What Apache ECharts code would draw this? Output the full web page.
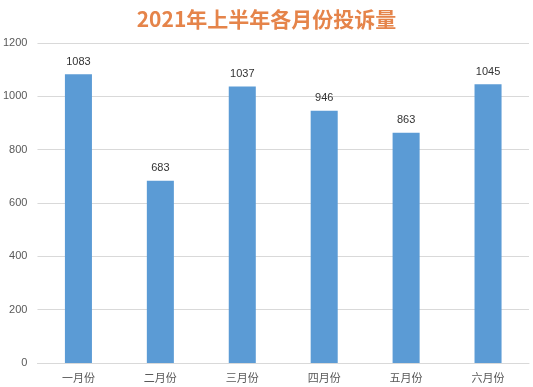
<!DOCTYPE html>
<html><head><meta charset="utf-8">
<script src="https://cdn.jsdelivr.net/npm/echarts@6/dist/echarts.min.js"></script>
<style>html,body{margin:0;padding:0;background:#fff}#c{width:533px;height:387px}</style>
</head><body><div id="c"></div>
<script>
const categories = ['一月份','二月份','三月份','四月份','五月份','六月份'];
const values = [1083, 683, 1037, 946, 863, 1045];
const titleText = '2021年上半年各月份投诉量';
const chart = echarts.init(document.getElementById('c'), null, {renderer:'canvas'});
chart.setOption({
  animation:false,
  backgroundColor:'#fff',
  title:{text:titleText,left:'center',top:4,textStyle:{color:'#E5844A',fontSize:21,fontWeight:'bold',fontFamily:'"Noto Sans CJK SC", sans-serif'}},
  grid:{left:37,right:4,top:43,bottom:24,containLabel:false},
  xAxis:{type:'category',data:categories,axisLine:{lineStyle:{color:'#d9d9d9'}},axisTick:{show:false},
    axisLabel:{color:'#595959',fontSize:11,margin:9,fontFamily:'"Noto Sans CJK SC", sans-serif'}},
  yAxis:{type:'value',min:0,max:1200,interval:200,axisLine:{show:false},axisTick:{show:false},
    splitLine:{lineStyle:{color:'#d9d9d9'}},
    axisLabel:{color:'#595959',fontSize:11,margin:10,fontFamily:'"Liberation Sans", Arial, sans-serif',formatter:function(v){return String(v);}}},
  series:[{type:'bar',data:values,barWidth:'33%',itemStyle:{color:'#5B9BD5'},
    label:{show:true,position:'top',distance:7,color:'#333',fontSize:11,fontFamily:'"Liberation Sans", Arial, sans-serif'}}]
});
</script></body></html>
